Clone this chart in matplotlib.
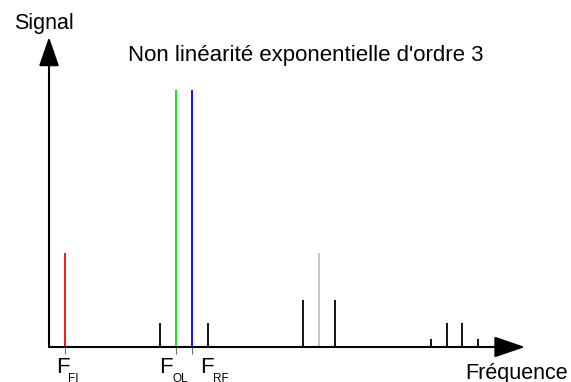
import matplotlib
matplotlib.use("Agg")
import matplotlib.pyplot as plt

plt.rcParams['font.family'] = ['Liberation Sans', 'DejaVu Sans']

# spectrum lines (frequency in units of F_FI, arbitrary amplitude)
freqs = [1, 7, 8, 9, 10, 16, 17, 18, 24, 25, 26, 27]
amps = [3.66, 0.93, 10.0, 10.0, 0.93, 1.83, 3.66, 1.83, 0.31, 0.93, 0.93, 0.31]
colors = ['#ff0000', 'black', '#00e000', '#0000ff', 'black', 'black',
          '#c0c0c0', 'black', 'black', 'black', 'black', 'black']

# labelled frequencies
label_freqs = [1, 8, 9]
label_subs = ['FI', 'OL', 'RF']

title = "Non linéarité exponentielle d'ordre 3"

W, H = 571, 382
fig = plt.figure(figsize=(W / 100, H / 100), dpi=100)
ax = fig.add_axes([0, 0, 1, 1])

# 1 freq unit = 15.9 px, 1 amp unit = 25.7 px, origin at pixel (49, 347)
xu, yu = 15.9, 25.7
x0, y0 = 49, 347
ax.set_xlim(-x0 / xu, (W - x0) / xu)
ax.set_ylim(-(H - y0) / yu, y0 / yu)
ax.axis('off')

px = 0.72  # points per pixel

# axes with arrows
ax.annotate('', xy=((525 - x0) / xu, 0), xytext=(0, 0),
            arrowprops=dict(arrowstyle='-|>,head_length=1.9,head_width=0.65',
                            mutation_scale=10, color='black', lw=1.5,
                            shrinkA=0, shrinkB=0))
ax.annotate('', xy=(0, (y0 - 37) / yu), xytext=(0, 0),
            arrowprops=dict(arrowstyle='-|>,head_length=1.8,head_width=0.62',
                            mutation_scale=10, color='black', lw=1.5,
                            shrinkA=0, shrinkB=0))

# spectrum
ax.vlines(freqs, 0, amps, colors=colors, lw=1.3)

# small ticks under the labelled frequencies
ax.vlines(label_freqs, -7 / yu, 0, colors='#707070', lw=0.8)

# F labels with subscripts
f_off = [-9, -17, 8]
s_off = [3, -4, 21]
for f, sub, fo, so in zip(label_freqs, label_subs, f_off, s_off):
    ax.annotate('F', xy=(f, 0), xytext=(fo * px, -26 * px),
                textcoords='offset points', ha='left', va='baseline',
                fontsize=16)
    ax.annotate(sub, xy=(f, 0), xytext=(so * px, -35 * px),
                textcoords='offset points', ha='left', va='baseline',
                fontsize=8.5)

fig.text(14 / W, 1 - 29 / H, 'Signal', fontsize=15.5, ha='left', va='baseline')
fig.text(465 / W, 1 - 379 / H, 'Fréquence', fontsize=15.5, ha='left', va='baseline')
fig.text(306 / W, 1 - 61 / H, title, fontsize=16, ha='center', va='baseline')

fig.savefig('out.png', dpi=100)
